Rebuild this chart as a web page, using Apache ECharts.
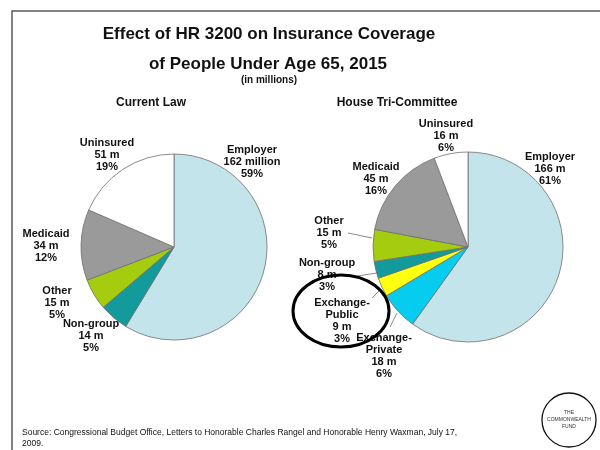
<!DOCTYPE html>
<html>
<head>
<meta charset="utf-8">
<script src="https://cdn.jsdelivr.net/npm/echarts@6/dist/echarts.min.js"></script>
<style>html,body{margin:0;padding:0;background:#fff}#c{width:600px;height:450px}</style>
</head>
<body>
<div id="c"></div>
<script>
// ---- data ----
const leftNames   = ['Employer', 'Non-group', 'Other', 'Medicaid', 'Uninsured'];
const leftValues  = [162, 14, 15, 34, 51];
const leftAmount  = ['162 million', '14 m', '15 m', '34 m', '51 m'];
const leftPct     = ['59%', '5%', '5%', '12%', '19%'];

const rightNames  = ['Employer', 'Exchange-\nPrivate', 'Exchange-\nPublic', 'Non-group', 'Other', 'Medicaid', 'Uninsured'];
const rightValues = [166, 18, 9, 8, 15, 45, 16];
const rightAmount = ['166 m', '18 m', '9 m', '8 m', '15 m', '45 m', '16 m'];
const rightPct    = ['61%', '6%', '3%', '3%', '5%', '16%', '6%'];

// ---- styling / layout (not data) ----
const colorMap = {
  'Employer': '#c4e4eb', 'Non-group': '#139a9d', 'Other': '#a6cc0f',
  'Medicaid': '#9a9a9a', 'Uninsured': '#ffffff',
  'Exchange-\nPrivate': '#06cdf0', 'Exchange-\nPublic': '#ffff10'
};
const leftLabelPos  = [[252,162],[91,336],[57,303],[46,246],[107,155]];
const rightLabelPos = [[550,169],[384,356],[342,321],[327,275],[329,233],[376,179],[446,136]];
const rightLeader = [null, [[397,313],[390,327]], [[380,290],[372,298]], [[377,273],[357,276]], [[372,238],[348,233]], null, null];

function build(names, values, amounts, pcts, leaders) {
  return names.map((n, i) => ({
    name: n, value: values[i],
    itemStyle: { color: colorMap[n] },
    label: { formatter: n + '\n' + amounts[i] + '\n' + pcts[i] },
    labelLine: { show: !!(leaders && leaders[i]) }
  }));
}

const chart = echarts.init(document.getElementById('c'));
const labelBase = {
  show: true, position: 'outside', color: '#111', overflow: 'none',
  fontFamily: 'Liberation Sans, Arial, sans-serif', fontWeight: 'bold',
  fontSize: 11, lineHeight: 12, align: 'center'
};
const titleFont = 'Liberation Sans, Arial, sans-serif';

chart.setOption({
  animation: false,
  title: [
    { text: 'Effect of HR 3200 on Insurance Coverage', left: 269, top: 26, textAlign: 'center', padding: 0,
      textStyle: { fontFamily: titleFont, fontSize: 17, fontWeight: 'bold', color: '#111' } },
    { text: 'of People Under Age 65, 2015', left: 268, top: 56, textAlign: 'center', padding: 0,
      textStyle: { fontFamily: titleFont, fontSize: 17, fontWeight: 'bold', color: '#111' } },
    { text: '(in millions)', left: 269, top: 75, textAlign: 'center', padding: 0,
      textStyle: { fontFamily: titleFont, fontSize: 10, fontWeight: 'bold', color: '#111' } },
    { text: 'Current Law', left: 151, top: 97, textAlign: 'center', padding: 0,
      textStyle: { fontFamily: titleFont, fontSize: 12, fontWeight: 'bold', color: '#111' } },
    { text: 'House Tri-Committee', left: 397, top: 97, textAlign: 'center', padding: 0,
      textStyle: { fontFamily: titleFont, fontSize: 12, fontWeight: 'bold', color: '#111' } },
    { text: 'Source: Congressional Budget Office, Letters to Honorable Charles Rangel and Honorable Henry Waxman, July 17,\n2009.',
      left: 22, top: 427, padding: 0,
      textStyle: { fontFamily: titleFont, fontSize: 8.5, fontWeight: 'normal', color: '#111', lineHeight: 11 } }
  ],
  series: [
    {
      type: 'pie', center: [174, 247], radius: 93, startAngle: 90, clockwise: true,
      itemStyle: { borderColor: '#6f6f6f', borderWidth: 0.8 },
      label: labelBase,
      labelLine: { show: false },
      labelLayout: function (p) {
        const pos = leftLabelPos[p.dataIndex];
        return { x: pos[0], y: pos[1], align: 'center', verticalAlign: 'middle' };
      },
      emphasis: { disabled: true },
      data: build(leftNames, leftValues, leftAmount, leftPct, null)
    },
    {
      type: 'pie', center: [468, 247], radius: 95, startAngle: 90, clockwise: true,
      itemStyle: { borderColor: '#6f6f6f', borderWidth: 0.8 },
      label: labelBase,
      labelLine: { show: true, lineStyle: { color: '#8a8a8a', width: 1 } },
      labelLayout: function (p) {
        const pos = rightLabelPos[p.dataIndex];
        const r = { x: pos[0], y: pos[1], align: 'center', verticalAlign: 'middle' };
        if (rightLeader[p.dataIndex]) r.labelLinePoints = rightLeader[p.dataIndex];
        return r;
      },
      emphasis: { disabled: true },
      data: build(rightNames, rightValues, rightAmount, rightPct, rightLeader)
    }
  ],
  graphic: [
    { type: 'rect', shape: { x: 12, y: 11, width: 600, height: 460 }, z: -10,
      style: { fill: 'none', stroke: '#5a5a5a', lineWidth: 1.5 } },
    { type: 'ellipse', shape: { cx: 341, cy: 311, rx: 48, ry: 36 }, z: 100,
      style: { fill: 'none', stroke: '#000', lineWidth: 3 } },
    { type: 'circle', shape: { cx: 569, cy: 420, r: 27 },
      style: { fill: '#fff', stroke: '#111', lineWidth: 1.3 } },
    { type: 'text', x: 569, y: 420,
      style: { text: 'THE\nCOMMONWEALTH\nFUND', align: 'center', verticalAlign: 'middle',
        fontSize: 5, lineHeight: 7, fill: '#333', fontFamily: titleFont } }
  ]
});
</script>
</body>
</html>
